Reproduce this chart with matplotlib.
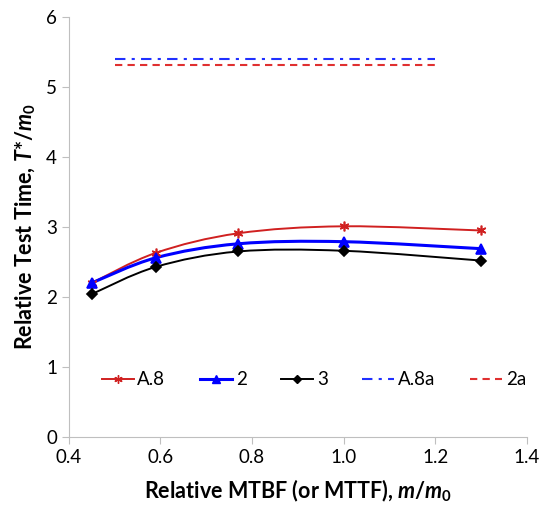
import numpy as np
import matplotlib
matplotlib.use('Agg')
import matplotlib.pyplot as plt
from matplotlib.path import Path
from matplotlib.patches import PathPatch
from matplotlib.lines import Line2D

plt.rcParams['font.family'] = ['Lato', 'DejaVu Sans']
plt.rcParams['mathtext.fontset'] = 'custom'
plt.rcParams['mathtext.rm'] = 'Lato:bold'
plt.rcParams['mathtext.it'] = 'Lato:bold:italic'

# data
m_rel = [0.45, 0.59, 0.77, 1.0, 1.3]
t_a8 = [2.20, 2.63, 2.91, 3.01, 2.95]
t_2 = [2.20, 2.56, 2.76, 2.79, 2.69]
t_3 = [2.04, 2.43, 2.65, 2.66, 2.52]
flat_x = [0.5, 1.2]
flat_a8a = [5.40, 5.40]
flat_2a = [5.32, 5.32]


def smooth_path(x, y):
    # Excel-like smoothed line: Catmull-Rom segments as cubic Bezier curves
    p = np.column_stack([x, y]).astype(float)
    verts = [p[0]]
    codes = [Path.MOVETO]
    n = len(p)
    for i in range(n - 1):
        p0 = p[max(i - 1, 0)]
        p1, p2 = p[i], p[i + 1]
        p3 = p[min(i + 2, n - 1)]
        verts += [p1 + (p2 - p0) / 6, p2 - (p3 - p1) / 6, p2]
        codes += [Path.CURVE4] * 3
    return Path(verts, codes)


fig, ax = plt.subplots(figsize=(5.42, 5.05), dpi=100)
fig.subplots_adjust(left=0.127, right=0.972, bottom=0.135, top=0.966)

series = [
    (t_a8, '#d02020', (6, 2, 0), 7, 1.4, 'A.8'),
    (t_2, '#0000ff', '^', 7, 2.2, '2'),
    (t_3, '#000000', 'D', 5, 1.4, '3'),
]
handles = []
for y, c, mk, ms, lw, lab in series:
    ax.add_patch(PathPatch(smooth_path(m_rel, y), fill=False, edgecolor=c, lw=lw))
    ax.plot(m_rel, y, ls='none', marker=mk, ms=ms, color=c, mec=c, mew=1.2)
    handles.append(Line2D([], [], color=c, lw=lw, marker=mk, ms=ms - 1, mec=c, label=lab))

h1, = ax.plot(flat_x, flat_a8a, color='#2030ff', lw=1.5, dashes=(5, 3, 1.5, 3), label='A.8a')
h2, = ax.plot(flat_x, flat_2a, color='#e03030', lw=1.5, dashes=(3.5, 2.5), label='2a')
handles += [h1, h2]

ax.set_xlim(0.4, 1.4)
ax.set_ylim(0, 6)
ax.set_xticks(np.arange(0.4, 1.41, 0.2))
ax.set_xticklabels(['0.4', '0.6', '0.8', '1.0', '1.2', '1.4'])
ax.set_yticks(range(7))

for s in ['top', 'right']:
    ax.spines[s].set_visible(False)
for s in ['left', 'bottom']:
    ax.spines[s].set_color('#bfbfbf')
ax.tick_params(colors='#bfbfbf', labelcolor='#000000', labelsize=13.5, length=5)

ax.set_xlabel('Relative MTBF (or MTTF), $m/m_0$', fontsize=15.5, fontweight='bold', labelpad=9)
ax.set_ylabel('Relative Test Time, $T$*/$m_0$', fontsize=15.5, fontweight='bold', labelpad=6)

ax.legend(handles=handles, loc='center', bbox_to_anchor=(0.535, 0.136), ncol=5,
          frameon=False, fontsize=13.5, handlelength=1.7, handletextpad=0.2,
          columnspacing=1.85)

fig.savefig('out.png', dpi=100)
